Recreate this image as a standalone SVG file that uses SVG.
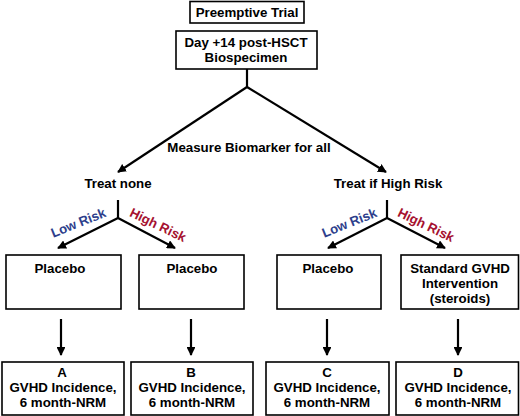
<svg xmlns="http://www.w3.org/2000/svg" width="520" height="416" viewBox="0 0 520 416">
<defs>
<marker id="ah" viewBox="0 0 10 10" refX="9" refY="5" markerWidth="4" markerHeight="4" orient="auto" markerUnits="strokeWidth">
<path d="M0,0 L10,5 L0,10 z" fill="#000"/>
</marker>
<style>
.b{fill:#fff;stroke:#000;stroke-width:1.6}
.t{font-family:"Liberation Sans",Arial,sans-serif;font-weight:bold;font-size:13.3px;fill:#000;text-anchor:middle}
.r{font-size:13.2px}
.c{stroke:#000;stroke-width:2.2;fill:none}
.a{stroke:#000;stroke-width:2.2;fill:none;marker-end:url(#ah)}
.lo{fill:#2e3f8c}
.hi{fill:#a5112f}
</style>
</defs>
<rect width="520" height="416" fill="#fff"/>
<g id="title"><rect class="b" x="190" y="1.5" width="114" height="21.5" stroke-width="2.2"/><text class="t" x="247" y="17">Preemptive Trial</text></g>
<g id="day14"><rect class="b" x="176" y="31" width="141" height="38"/><text class="t" x="246" y="47">Day +14 post-HSCT</text><text class="t" x="246" y="62">Biospecimen</text></g>
<g id="measure"><text class="t" x="249" y="152">Measure Biomarker for all</text></g>
<g id="treatnone"><text class="t" x="118" y="188">Treat none</text></g>
<g id="treathigh"><text class="t" x="388" y="188">Treat if High Risk</text></g>
<g id="labels">
<text class="t r lo" transform="translate(80,227) rotate(-22)">Low Risk</text>
<text class="t r hi" transform="translate(156,229) rotate(26)">High Risk</text>
<text class="t r lo" transform="translate(351,227) rotate(-22)">Low Risk</text>
<text class="t r hi" transform="translate(424,229) rotate(26)">High Risk</text>
</g>
<g id="p1"><rect class="b" x="6" y="255" width="115" height="54"/><text class="t" x="60" y="273">Placebo</text></g>
<g id="p2"><rect class="b" x="139" y="255" width="105" height="54"/><text class="t" x="192" y="273">Placebo</text></g>
<g id="p3"><rect class="b" x="277" y="255" width="104" height="54"/><text class="t" x="328" y="273">Placebo</text></g>
<g id="p4"><rect class="b" x="401" y="255" width="117.5" height="54"/><text class="t" x="460" y="273">Standard GVHD</text><text class="t" x="460" y="288">Intervention</text><text class="t" x="460" y="303">(steroids)</text></g>
<g id="A"><rect class="b" x="2" y="362" width="122" height="53"/><text class="t" x="62" y="377">A</text><text class="t" x="63" y="392">GVHD Incidence,</text><text class="t" x="63" y="407">6 month-NRM</text></g>
<g id="B"><rect class="b" x="131" y="362" width="122" height="53"/><text class="t" x="191" y="377">B</text><text class="t" x="192" y="392">GVHD Incidence,</text><text class="t" x="192" y="407">6 month-NRM</text></g>
<g id="C"><rect class="b" x="266" y="362" width="123" height="53"/><text class="t" x="327" y="377">C</text><text class="t" x="327" y="392">GVHD Incidence,</text><text class="t" x="327" y="407">6 month-NRM</text></g>
<g id="D"><rect class="b" x="396" y="362" width="122.5" height="53"/><text class="t" x="458" y="377">D</text><text class="t" x="458" y="392">GVHD Incidence,</text><text class="t" x="458" y="407">6 month-NRM</text></g>
<g id="connectors">
<path class="c" d="M247,69 V87"/>
<path class="a" d="M247,87 L118,172"/>
<path class="a" d="M247,87 L386,172"/>
<path class="c" d="M118,200 V218"/>
<path class="a" d="M118,218 L58,248"/>
<path class="a" d="M118,218 L175,248"/>
<path class="c" d="M387,200 V218"/>
<path class="a" d="M387,218 L328,248"/>
<path class="a" d="M387,218 L445,248"/>
<path class="a" d="M61,319 V355"/>
<path class="a" d="M191,319 V355"/>
<path class="a" d="M327,319 V355"/>
<path class="a" d="M458,319 V355"/>
</g>
</svg>
